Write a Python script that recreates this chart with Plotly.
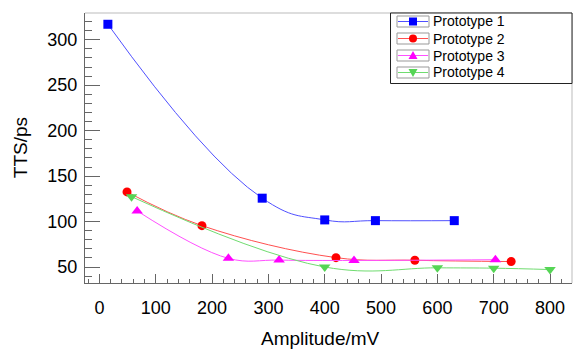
import plotly.graph_objects as go

# ---- data ----
names = ["Prototype 1", "Prototype 2", "Prototype 3", "Prototype 4"]
p1_x = [15, 289, 400, 490, 630]
p1_y = [317, 125.7, 101.8, 101, 101]
p2_x = [49, 182, 420, 560, 731]
p2_y = [132.6, 95.5, 60.3, 57.4, 56]
p3_x = [67, 229, 319, 452, 703]
p3_y = [111.7, 59.5, 57.6, 57.2, 58]
p4_x = [57, 400, 600, 700, 800]
p4_y = [127.4, 50, 49.1, 48.7, 47.2]

xs = [p1_x, p2_x, p3_x, p4_x]
ys = [p1_y, p2_y, p3_y, p4_y]
colors = ["#0000ff", "#ff0000", "#ff00ff", "#55d555"]
line_colors = ["#5050ff", "#ff5050", "#ff50ff", "#70dc70"]
symbols = ["square", "circle", "triangle-up", "triangle-down"]
msizes = [9, 9, 10, 10]
smooth = [1.3, 1.1, 1.1, 1.15]

fig = go.Figure()
for n, x, y, c, lc, s, m, sm in zip(names, xs, ys, colors, line_colors, symbols, msizes, smooth):
    fig.add_trace(go.Scatter(
        x=x, y=y, name=n, mode="lines+markers", showlegend=False,
        line=dict(color=lc, width=1, shape="spline", smoothing=sm),
        marker=dict(color=c, symbol=s, size=m, line=dict(width=0)),
    ))

font = "Liberation Sans, Arial, sans-serif"
axcol = "#666666"

# plot-area geometry in pixels (for the hand-drawn ROOT-style legend)
L, R, T, B = 85, 572, 13, 283
def fx(px):
    return (px - L) / (R - L)
def fy(py):
    return (B - py) / (B - T)

shapes = [
    dict(type="line", xref="paper", yref="paper", x0=0, x1=1, y0=1, y1=1,
         line=dict(color="#bbbbbb", width=1)),
    dict(type="line", xref="paper", yref="paper", x0=1, x1=1, y0=0, y1=1,
         line=dict(color="#bbbbbb", width=1)),
    # legend box
    dict(type="rect", xref="paper", yref="paper", x0=fx(390.5), x1=fx(572), y0=fy(83.5), y1=fy(13),
         line=dict(color="#222222", width=1), fillcolor="white", layer="above"),
]
annotations = [
    dict(text="Amplitude/mV", xref="paper", yref="paper", x=0.483, y=-0.205,
         xanchor="center", yanchor="middle", showarrow=False,
         font=dict(size=19, family=font, color="black")),
    dict(text="TTS/ps", xref="paper", yref="paper", x=-0.133, y=0.5,
         xanchor="center", yanchor="middle", showarrow=False, textangle=-90,
         font=dict(size=19, family=font, color="black")),
]

row_y = [21.5, 38.5, 55.5, 72.5]
sx0, sx1, mx = 397, 429, 413
for i, cy in enumerate(row_y):
    c, lc = colors[i], line_colors[i]
    shapes.append(dict(type="rect", xref="paper", yref="paper",
                       x0=fx(sx0), x1=fx(sx1), y0=fy(cy + 5.5), y1=fy(cy - 5.5),
                       line=dict(color="#999999", width=1), layer="above"))
    shapes.append(dict(type="line", xref="paper", yref="paper",
                       x0=fx(sx0 + 1), x1=fx(sx1 - 1), y0=fy(cy), y1=fy(cy),
                       line=dict(color=lc, width=1), layer="above"))
    r = 4
    if symbols[i] == "square":
        shapes.append(dict(type="rect", xref="paper", yref="paper",
                           x0=fx(mx - r), x1=fx(mx + r), y0=fy(cy + r), y1=fy(cy - r),
                           line=dict(width=0), fillcolor=c, layer="above"))
    elif symbols[i] == "circle":
        shapes.append(dict(type="circle", xref="paper", yref="paper",
                           x0=fx(mx - r), x1=fx(mx + r), y0=fy(cy + r), y1=fy(cy - r),
                           line=dict(width=0), fillcolor=c, layer="above"))
    elif symbols[i] == "triangle-up":
        p = "M {} {} L {} {} L {} {} Z".format(fx(mx - 4.5), fy(cy + 3.5), fx(mx + 4.5), fy(cy + 3.5),
                                               fx(mx), fy(cy - 4.5))
        shapes.append(dict(type="path", xref="paper", yref="paper", path=p,
                           line=dict(width=0), fillcolor=c, layer="above"))
    else:
        p = "M {} {} L {} {} L {} {} Z".format(fx(mx - 4.5), fy(cy - 3.5), fx(mx + 4.5), fy(cy - 3.5),
                                               fx(mx), fy(cy + 4.5))
        shapes.append(dict(type="path", xref="paper", yref="paper", path=p,
                           line=dict(width=0), fillcolor=c, layer="above"))
    annotations.append(dict(text=names[i], xref="paper", yref="paper",
                            x=fx(431), y=fy(cy), xanchor="left", yanchor="middle",
                            showarrow=False, font=dict(size=14, family=font, color="black")))

fig.update_layout(
    width=573, height=350,
    margin=dict(l=L, r=573 - R, t=T, b=350 - B),
    paper_bgcolor="white", plot_bgcolor="white",
    font=dict(family=font, color="black"),
    showlegend=False,
    xaxis=dict(
        range=[-25.6, 839], showgrid=False, zeroline=False, automargin=False,
        showline=True, linecolor=axcol, linewidth=1,
        ticks="inside", ticklen=9, tickcolor=axcol, tickwidth=1,
        tick0=0, dtick=100, tickfont=dict(size=18),
        ticklabelstandoff=8,
        minor=dict(ticks="inside", ticklen=4, dtick=20, tick0=0, tickcolor=axcol),
    ),
    yaxis=dict(
        range=[32.4, 329.4], showgrid=False, zeroline=False, automargin=False,
        showline=True, linecolor=axcol, linewidth=1,
        ticks="inside", ticklen=15, tickcolor=axcol, tickwidth=1,
        tick0=0, dtick=50, tickfont=dict(size=18),
        ticklabelstandoff=3,
        minor=dict(ticks="inside", ticklen=7, dtick=10, tick0=0, tickcolor=axcol),
    ),
    annotations=annotations,
    shapes=shapes,
)

fig.write_html("out.html", config={"displayModeBar": False},
               post_script="document.body.style.margin='0';")
